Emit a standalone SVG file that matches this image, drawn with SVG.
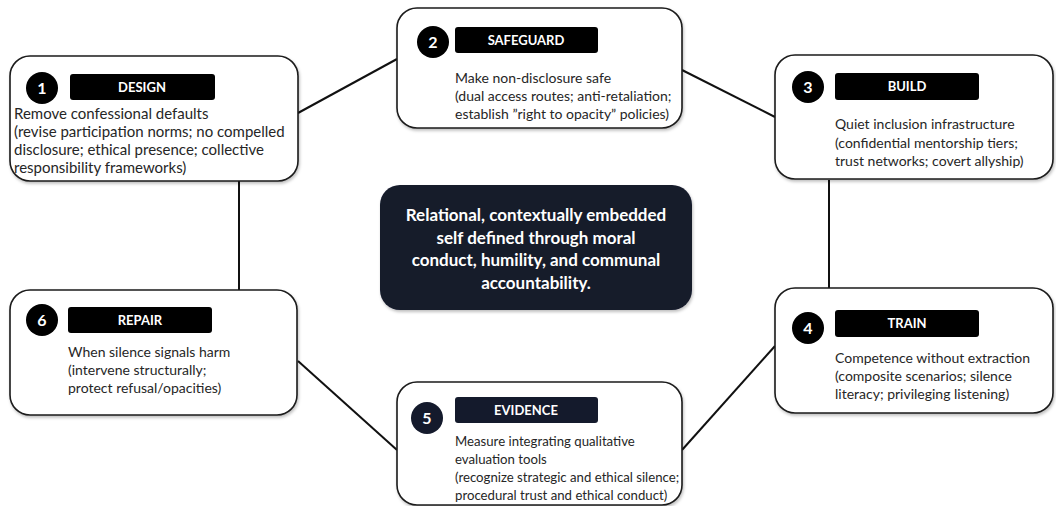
<svg xmlns="http://www.w3.org/2000/svg" width="1056" height="506" viewBox="0 0 1056 506">
<defs>
<filter id="sh" x="-10%" y="-10%" width="120%" height="130%">
<feDropShadow dx="1" dy="2" stdDeviation="1.5" flood-color="#000" flood-opacity="0.25"/>
</filter>
<style>
.box{fill:#fff;stroke:#1a1a1a;stroke-width:1.6;filter:url(#sh)}
.circ{fill:#000}
.bar{fill:#000}
.num{font-family:Lato,"Liberation Sans",sans-serif;font-weight:700;font-size:16px;fill:#fff;text-anchor:middle}
.lab{font-family:Lato,"Liberation Sans",sans-serif;font-weight:700;font-size:13px;fill:#fff;text-anchor:middle}
.body{font-family:Lato,"Liberation Sans",sans-serif;font-size:14px;fill:#262626}
.big{font-size:15px}
.small{font-size:13.2px}
.ctr{font-family:Lato,"Liberation Sans",sans-serif;font-weight:700;font-size:17px;fill:#fff;text-anchor:middle}
.conn{stroke:#111;stroke-width:2;fill:none}
</style>
</defs>
<rect width="1056" height="506" fill="#fff"/>
<g id="connectors">
<line class="conn" x1="298" y1="113" x2="397" y2="59"/>
<line class="conn" x1="682" y1="70" x2="775" y2="117"/>
<line class="conn" x1="829" y1="180" x2="829" y2="288"/>
<line class="conn" x1="775" y1="346" x2="682" y2="450"/>
<line class="conn" x1="397" y1="450" x2="298" y2="361"/>
<line class="conn" x1="239" y1="290" x2="239" y2="181"/>
</g>
<g id="center">
<rect x="380" y="185" width="312" height="125" rx="20" fill="#141a2c" filter="url(#sh)"/>
<text class="ctr" x="536" y="221">Relational, contextually embedded</text>
<text class="ctr" x="536" y="244">self defined through moral</text>
<text class="ctr" x="536" y="266">conduct, humility, and communal</text>
<text class="ctr" x="536" y="289">accountability.</text>
</g>
<g id="node1">
<rect class="box" x="10" y="56" width="288" height="125" rx="20"/>
<circle class="circ" cx="42" cy="88" r="16"/>
<text class="num" x="42" y="94">1</text>
<rect class="bar" x="70" y="74" width="145" height="26" rx="3"/>
<text class="lab" x="142" y="92">DESIGN</text>
<text class="body big" x="14" y="119">Remove confessional defaults</text>
<text class="body big" x="14" y="137">(revise participation norms; no compelled</text>
<text class="body big" x="14" y="155">disclosure; ethical presence; collective</text>
<text class="body big" x="14" y="173">responsibility frameworks)</text>
</g>
<g id="node2">
<rect class="box" x="397" y="8" width="285" height="120" rx="20"/>
<circle class="circ" cx="433" cy="42" r="16"/>
<text class="num" x="433" y="48">2</text>
<rect class="bar" x="455" y="27" width="143" height="26" rx="3"/>
<text class="lab" x="526" y="45">SAFEGUARD</text>
<text class="body" x="455" y="83">Make non-disclosure safe</text>
<text class="body" x="455" y="101">(dual access routes; anti-retaliation;</text>
<text class="body" x="455" y="119">establish ”right to opacity” policies)</text>
</g>
<g id="node3">
<rect class="box" x="775" y="55" width="278" height="124" rx="20"/>
<circle class="circ" cx="808" cy="87" r="16"/>
<text class="num" x="808" y="93">3</text>
<rect class="bar" x="835" y="73" width="144" height="27" rx="3"/>
<text class="lab" x="907" y="91">BUILD</text>
<text class="body" x="835" y="129">Quiet inclusion infrastructure</text>
<text class="body" x="835" y="147.5">(confidential mentorship tiers;</text>
<text class="body" x="835" y="166">trust networks; covert allyship)</text>
</g>
<g id="node4">
<rect class="box" x="775" y="288" width="278" height="125" rx="20"/>
<circle class="circ" cx="808" cy="328" r="16"/>
<text class="num" x="808" y="334">4</text>
<rect class="bar" x="835" y="310" width="144" height="27" rx="3"/>
<text class="lab" x="907" y="328">TRAIN</text>
<text class="body" x="835" y="363">Competence without extraction</text>
<text class="body" x="835" y="381">(composite scenarios; silence</text>
<text class="body" x="835" y="399">literacy; privileging listening)</text>
</g>
<g id="node5">
<rect class="box" x="397" y="382" width="285" height="123" rx="20"/>
<circle cx="427" cy="418" r="16" fill="#141a2c"/>
<text class="num" x="427" y="424">5</text>
<rect x="455" y="397" width="143" height="26" rx="3" fill="#141a2c"/>
<text class="lab" x="526" y="415">EVIDENCE</text>
<text class="body small" x="455" y="446">Measure integrating qualitative</text>
<text class="body small" x="455" y="464">evaluation tools</text>
<text class="body small" x="455" y="482">(recognize strategic and ethical silence;</text>
<text class="body small" x="455" y="500">procedural trust and ethical conduct)</text>
</g>
<g id="node6">
<rect class="box" x="10" y="290" width="287" height="125" rx="20"/>
<circle class="circ" cx="42" cy="320" r="16"/>
<text class="num" x="42" y="326">6</text>
<rect class="bar" x="68" y="307" width="144" height="26" rx="3"/>
<text class="lab" x="140" y="325">REPAIR</text>
<text class="body" x="68" y="357">When silence signals harm</text>
<text class="body" x="68" y="375">(intervene structurally;</text>
<text class="body" x="68" y="393">protect refusal/opacities)</text>
</g>
</svg>
